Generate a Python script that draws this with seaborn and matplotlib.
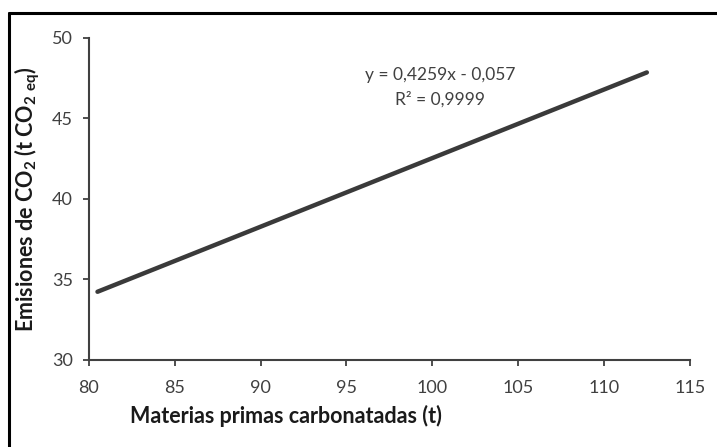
import matplotlib
matplotlib.use("Agg")
import matplotlib.pyplot as plt
import seaborn as sns
import pandas as pd
from matplotlib.lines import Line2D

# data
materias = [80.5, 88.0, 96.0, 104.0, 112.5]
emisiones = [34.23, 37.42, 40.83, 44.24, 47.86]
x_ticks = [80, 85, 90, 95, 100, 105, 110, 115]
y_ticks = [30, 35, 40, 45, 50]
ecuacion = "y = 0,4259x - 0,057\nR² = 0,9999"

sns.set_theme(style="white")
plt.rcParams['font.family'] = ['Lato', 'DejaVu Sans']
plt.rcParams['mathtext.fontset'] = 'custom'
plt.rcParams['mathtext.bf'] = 'Lato:bold'
plt.rcParams['mathtext.rm'] = 'Lato'
plt.rcParams['mathtext.default'] = 'bf'

txt = '#404040'
df = pd.DataFrame({'x': materias, 'y': emisiones})

fig = plt.figure(figsize=(7.17, 4.47), dpi=100)
ax = fig.add_axes([0.124, 0.195, 0.838, 0.72])
sns.lineplot(data=df, x='x', y='y', ax=ax, color='#3a3a3a', linewidth=3.2)

ax.set_xlim(80, 115)
ax.set_ylim(30, 50)
ax.set_xticks(x_ticks)
ax.set_yticks(y_ticks)
ax.tick_params(axis='both', direction='out', length=4.5, width=1.3, color='#404040',
               labelsize=13, labelcolor=txt, bottom=True, left=True)
ax.tick_params(axis='x', pad=10)
ax.tick_params(axis='y', pad=7)
for s in ['top', 'right']:
    ax.spines[s].set_visible(False)
for s in ['left', 'bottom']:
    ax.spines[s].set_color('#404040')
    ax.spines[s].set_linewidth(1.5)

ax.set_xlabel('Materias primas carbonatadas (t)', fontsize=15.5, fontweight='bold', color='#1a1a1a')
ax.xaxis.set_label_coords(0.328, -0.14)
ax.set_ylabel('Emisiones de CO$_2$ (t CO$_{2\\ eq}$)', fontsize=15.5, fontweight='bold', color='#1a1a1a')
ax.yaxis.set_label_coords(-0.078, 0.5)

ax.text(0.584, 0.847, ecuacion, transform=ax.transAxes, ha='center', va='center',
        fontsize=12.5, color=txt, linespacing=1.6)

# frame of the pasted image: top and left edges
fig.add_artist(Line2D([0.012, 1.0], [0.971, 0.971], transform=fig.transFigure, color='black', linewidth=2.2))
fig.add_artist(Line2D([0.012, 0.012], [0.0, 0.971], transform=fig.transFigure, color='black', linewidth=2.2))

fig.savefig('out.png', dpi=100)
